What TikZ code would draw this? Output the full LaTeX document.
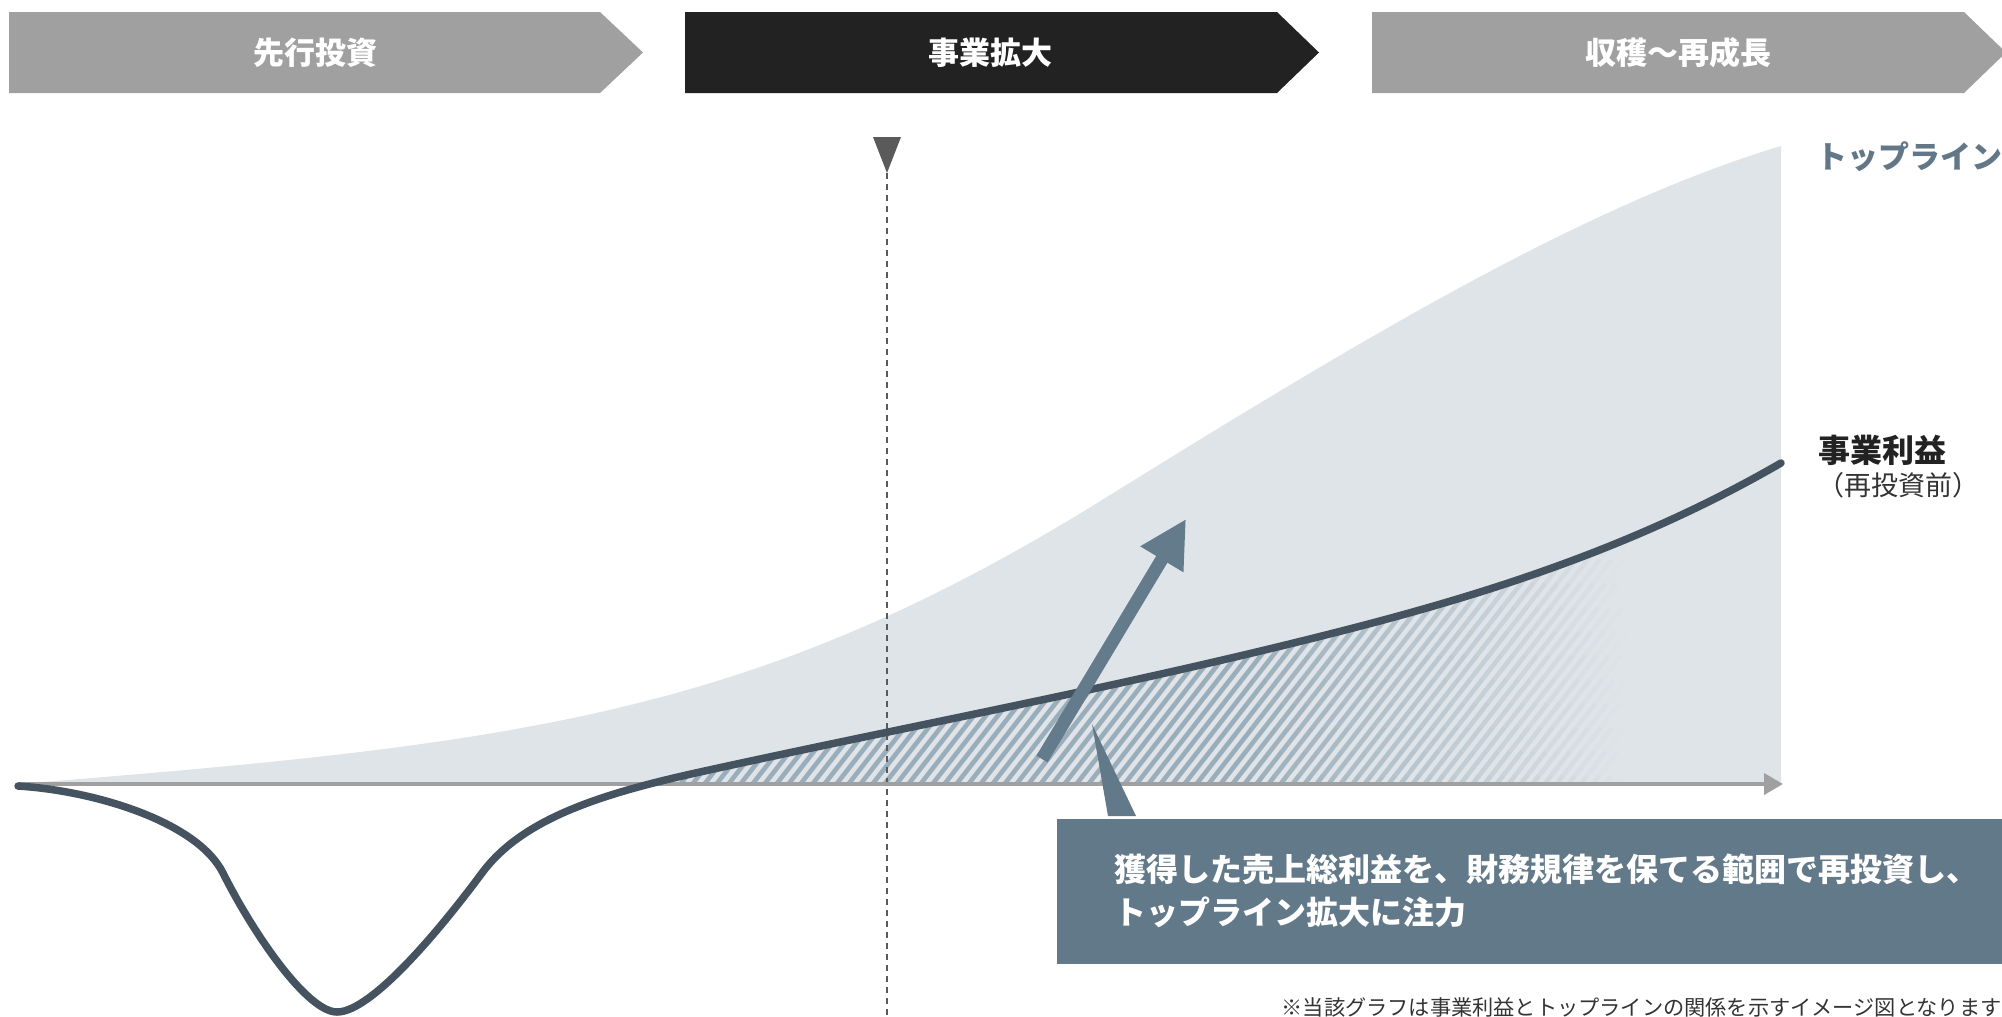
\documentclass[tikz,border=0pt]{standalone}
\usepackage{fontspec}
\setmainfont{Noto Sans CJK JP}
\usetikzlibrary{arrows.meta}

\definecolor{bandGrey}{HTML}{A0A0A0}
\definecolor{bandDark}{HTML}{222222}
\definecolor{areaGrey}{HTML}{DFE4E8}
\definecolor{hatchBlue}{HTML}{9AADBA}
\definecolor{profitSlate}{HTML}{44535F}
\definecolor{arrowBlue}{HTML}{647B8B}
\definecolor{calloutBlue}{HTML}{62798A}
\definecolor{markGrey}{HTML}{5A5A5A}
\definecolor{topBlue}{HTML}{627888}
\definecolor{noteGrey}{HTML}{333333}

\tikzset{every picture/.style={line width=0.75pt}}
\tikzset{
  phase label/.style={inner sep=0pt, text=white, font=\fontsize{15.5}{18}\selectfont\bfseries},
  side label/.style={anchor=west, inner sep=0pt},
  hatchline/.style={draw=hatchBlue, line width=2.3pt},
  profitline/.style={draw=profitSlate, line width=3.75pt, line cap=round, line join=round},
  axisline/.style={draw=bandGrey, line width=2pt, -{Triangle[length=9.5pt,width=10.5pt]}},
  growarrow/.style={draw=arrowBlue, line width=6.5pt, -{Triangle[length=23.5pt,width=23.5pt]}},
  dashline/.style={draw=markGrey, line width=1pt, dash pattern=on 3pt off 2.5pt}
}

\begin{document}
\begin{tikzpicture}[x=0.5pt,y=0.5pt,yscale=-1,xscale=1]
\useasboundingbox (0,0) rectangle (2002,1017);

%Shape: Chevron [phase 1]
\fill[bandGrey] (9,12) -- (600,12) -- (643,52.5) -- (600,93) -- (9,93) -- cycle ;
%Shape: Chevron [phase 2]
\fill[bandDark] (685,12) -- (1277,12) -- (1319,52.5) -- (1277,93) -- (685,93) -- cycle ;
%Shape: Chevron [phase 3]
\fill[bandGrey] (1372,12) -- (1964,12) -- (2006,52.5) -- (1964,93) -- (1372,93) -- cycle ;
% Text Node
\draw (315,52.5) node (phaseA) [phase label] {先行投資};
% Text Node
\draw (990,52.5) node (phaseB) [phase label] {事業拡大};
% Text Node
\draw (1678,52.5) node (phaseC) [phase label] {収穫〜再成長};

%Shape: Area [topline]
\fill[areaGrey] (18,784) .. controls (518,744) and (752,717) .. (1102,500) .. controls (1352,345) and (1581,206) .. (1781,146) -- (1781,784) -- cycle ;

%Hatch under profit line, fading to the right
\begin{scope}
  \clip (0,0) rectangle (2002,784) ;
  \clip (482,873) .. controls (522,819) and (600,794) .. (700,772) .. controls (920,723.6) and (1137,684) .. (1357,627) .. controls (1497,590.6) and (1641,544) .. (1781,463) -- (1781,784) -- (482,784) -- cycle ;
  \foreach \x in {560,572,...,1640}{
    \foreach \k in {0,...,15}{
      \pgfmathsetmacro\xa{\x+18.75*\k}
      \pgfmathsetmacro\ya{800-24*\k}
      \pgfmathsetmacro\op{max(0,min(1,(1620-\xa-9.4)/380))}
      \draw[hatchline, draw opacity=\op] (\xa,\ya) -- ++(18.75,-24) ;
    }
  }
\end{scope}

%Marker and dashed line
\fill[markGrey] (873,137) -- (901,137) -- (887,173) -- cycle ;
\coordinate (marktip) at (887,173);
\coordinate (markfoot) at (887,1017);
\draw[dashline] (marktip) -- (markfoot) ;

%Straight Lines [axis]
\coordinate (origin) at (18,784);
\coordinate (axisend) at (1783,784);
\draw[axisline] (origin) -- (axisend) ;

%Curve Lines [profit]
\draw[profitline] (18,786) .. controls (98,791) and (198,823) .. (223,873) .. controls (253,933) and (307,1012) .. (337,1012) .. controls (372,1012) and (442,927) .. (482,873) .. controls (522,819) and (600,794) .. (700,772) .. controls (920,723.6) and (1137,684) .. (1357,627) .. controls (1497,590.6) and (1641,544) .. (1781,463) ;

%Straight Lines [growth arrow]
\coordinate (growtail) at (1042,759);
\coordinate (growtip) at (1186,519);
\draw[growarrow] (growtail) -- (growtip) ;

%Shape: Callout
\draw (1056,818) node (callout) [anchor=north west, fill=calloutBlue, text=white, inner xsep=29pt, inner ysep=0pt, minimum height=72.5pt, text width=442pt, align=left, font=\fontsize{16}{21.5}\selectfont\bfseries] {獲得した売上総利益を、財務規律を保てる範囲で再投資し、\\トップライン拡大に注力};
\coordinate (pointtip) at (1092,724);
\fill[calloutBlue] (pointtip) -- ([xshift=26pt,yshift=-1pt]callout.north west) -- ([xshift=40pt,yshift=-1pt]callout.north west) -- cycle ;

% Text Node
\draw (1816,157) node (toplabel) [side label, text=topBlue, font=\fontsize{15.5}{18}\selectfont\bfseries] {トップライン};
% Text Node
\draw (1818,450) node (profitlabel) [side label, text=bandDark, font=\fontsize{16}{18}\selectfont\bfseries] {事業利益};
% Text Node
\draw (1817,485) node (profitnote) [side label, text=noteGrey, font=\fontsize{13.5}{16}\selectfont] {（再投資前）};
% Text Node
\draw (1281,1007) node (footnote) [side label, text=noteGrey, font=\fontsize{10.6}{13}\selectfont] {※当該グラフは事業利益とトップラインの関係を示すイメージ図となります};
\end{tikzpicture}
\end{document}
